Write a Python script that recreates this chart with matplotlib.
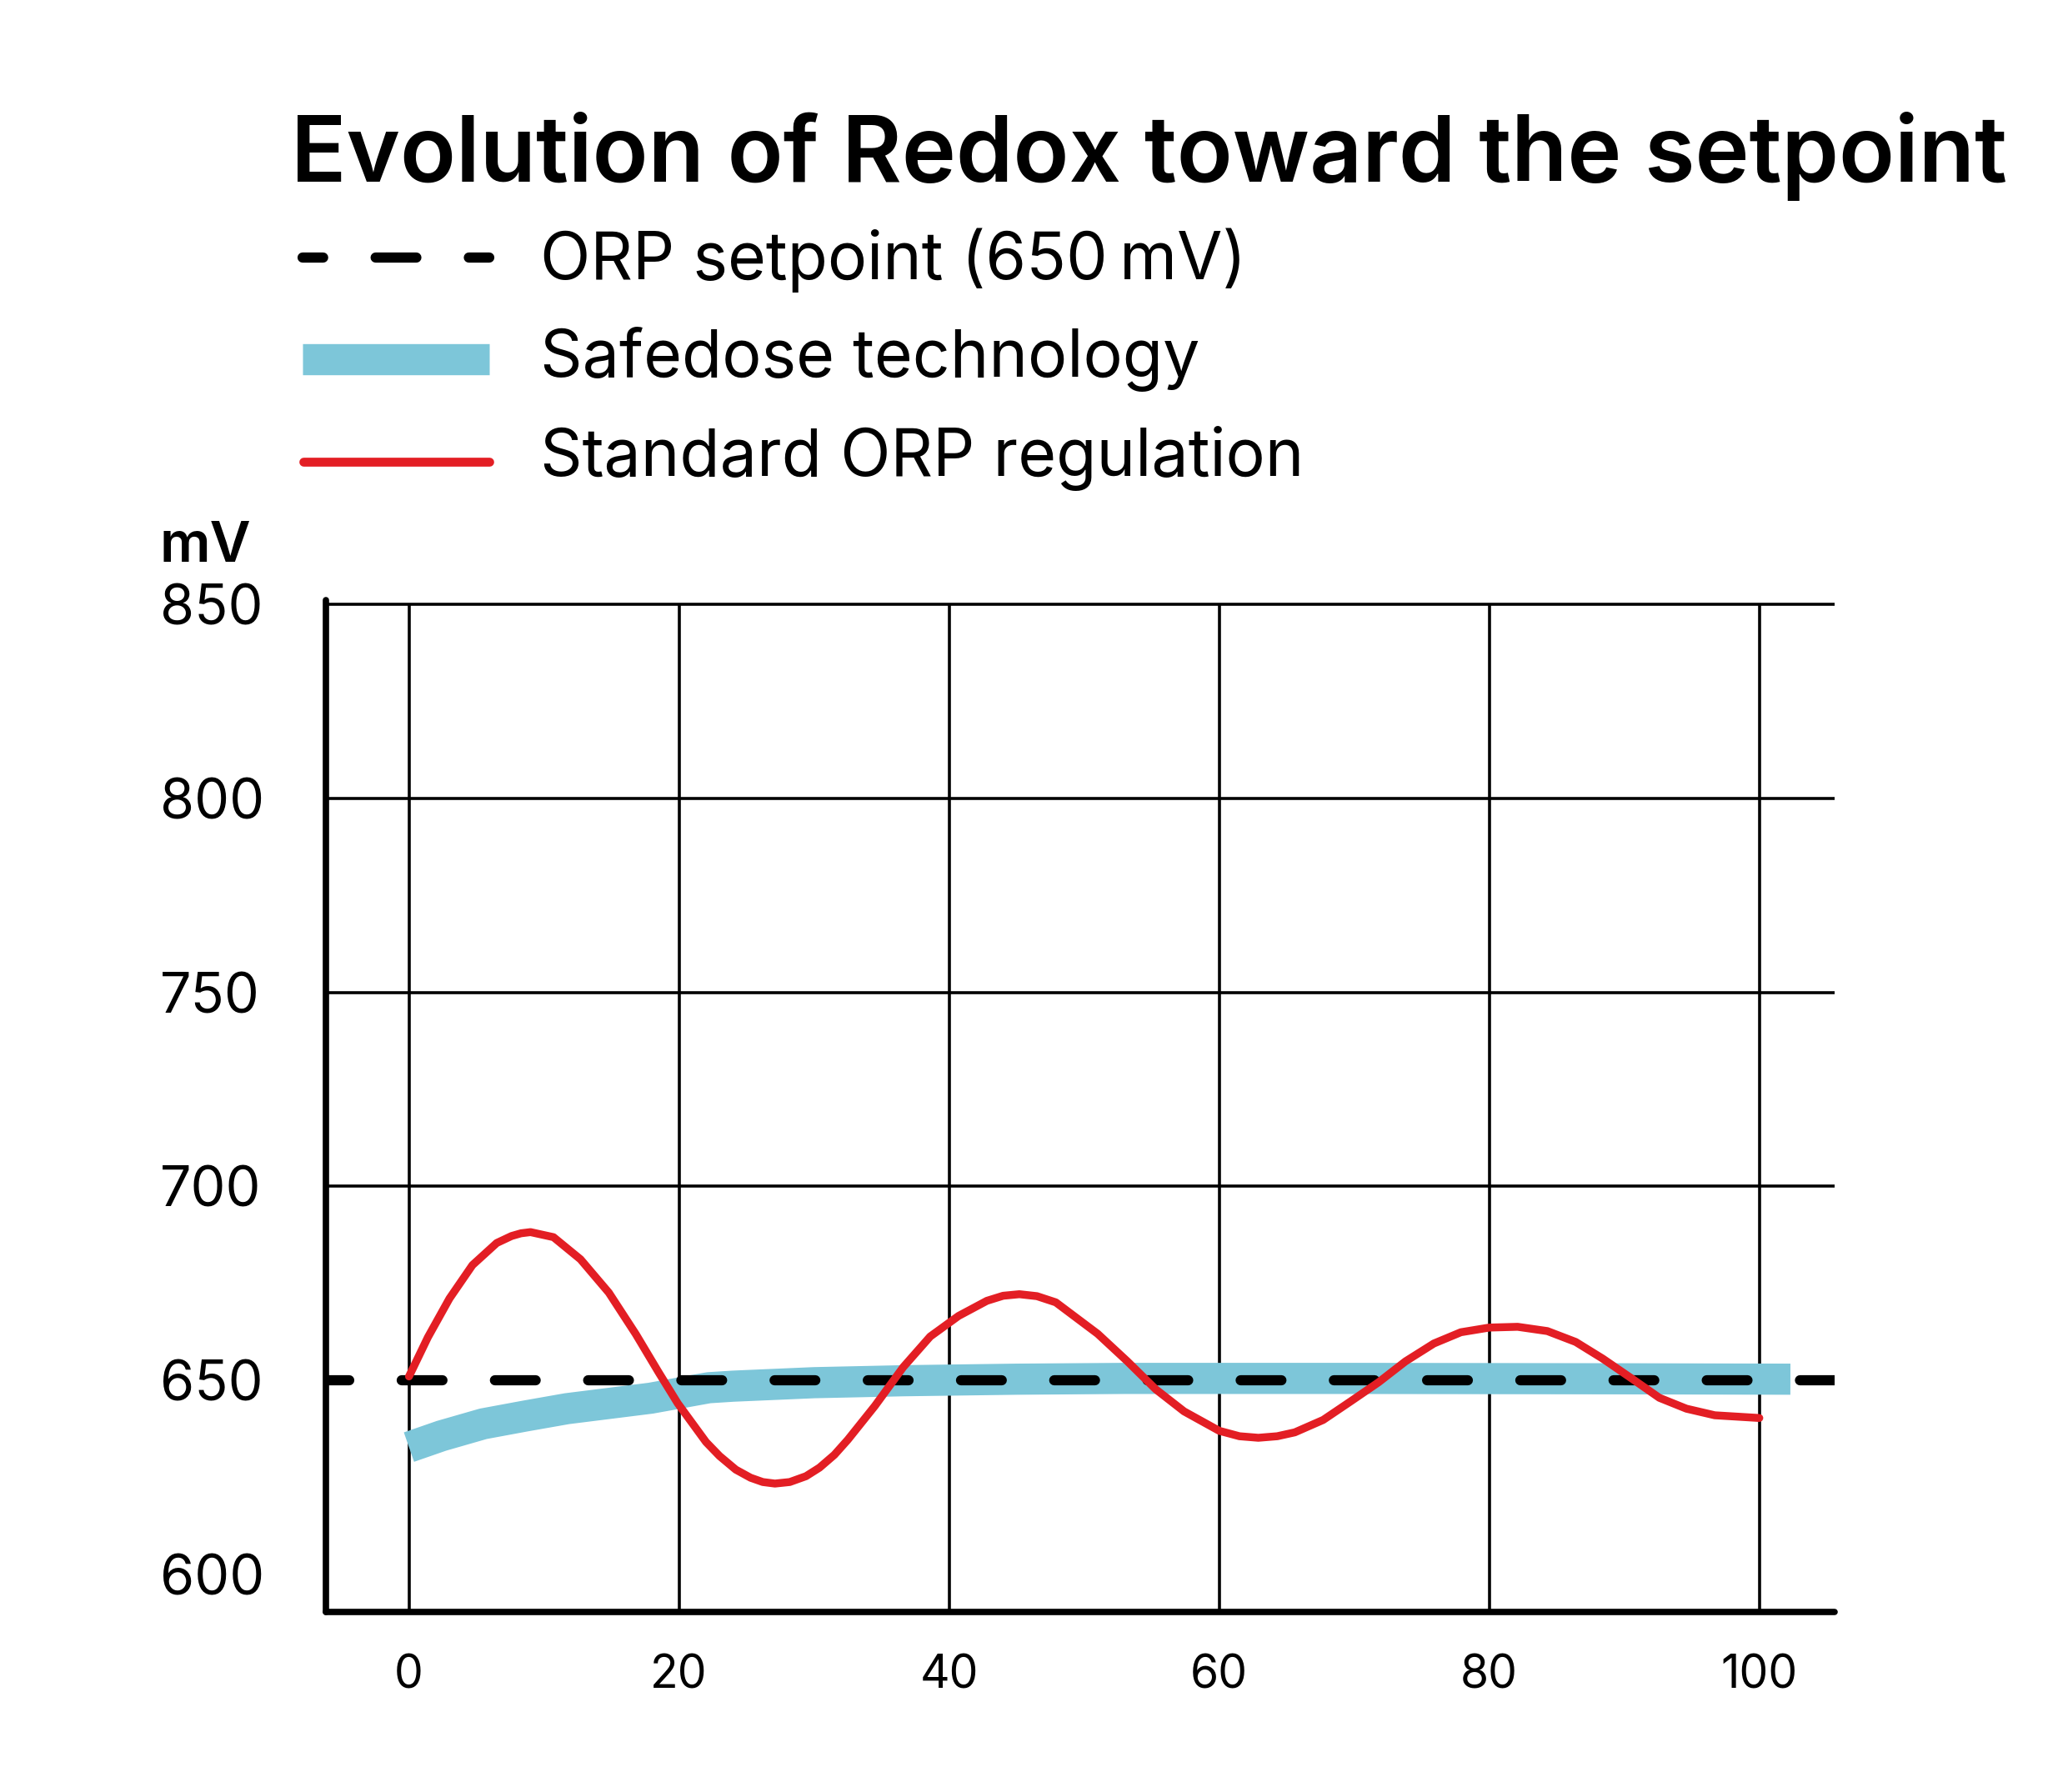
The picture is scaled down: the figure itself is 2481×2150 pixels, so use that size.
import matplotlib
matplotlib.use('Agg')
import matplotlib.pyplot as plt
from matplotlib.lines import Line2D

plt.rcParams['font.family'] = ['Inter', 'Lato', 'DejaVu Sans']

# data
x_ticks = [0, 20, 40, 60, 80, 100]
y_ticks = [600, 650, 700, 750, 800, 850]
grid_y = [700, 750, 800, 850]
setpoint = 650

safedose_x = [0, 2.4, 5.5, 8.6, 11.7, 17.9, 22.2, 24.0, 30.0, 36.6, 45.0, 53.0, 70.0, 90.0, 102.3]
safedose_y = [632.8, 635.7, 638.8, 640.8, 642.7, 645.4, 648.1, 648.5, 649.4, 649.9, 650.3, 650.5, 650.5, 650.4, 650.3]

standard_x = [0, 1.4, 3.0, 4.7, 6.5, 7.6, 8.3, 9.0, 10.7, 12.7, 14.8, 16.8, 18.5, 19.9, 22.0, 23.0,
              24.2, 25.3, 26.2, 27.1, 28.2, 29.4, 30.4, 31.5, 32.5, 34.5, 36.6, 38.6, 40.7, 42.8,
              44.0, 45.2, 46.5, 47.9, 51.0, 53.2, 55.3, 57.4, 60.0, 61.5, 62.9, 64.3, 65.6, 67.7,
              69.7, 71.8, 73.8, 75.9, 77.9, 80.0, 82.1, 84.3, 86.4, 88.4, 90.5, 92.6, 94.6, 96.7, 100]
standard_y = [651, 661.1, 671.1, 679.7, 685.4, 687.2, 687.9, 688.2, 686.9, 681.2, 672.6, 661.9, 652,
              644.1, 634.1, 630.5, 627.0, 624.9, 623.8, 623.4, 623.8, 625.3, 627.5, 630.8, 634.7,
              643.4, 653.4, 661.3, 666.6, 670.5, 671.8, 672.2, 671.7, 670.1, 662, 654.9, 647.7, 642,
              637, 635.6, 635.2, 635.6, 636.6, 639.8, 644.5, 649.5, 654.9, 659.5, 662.4, 663.6,
              663.8, 662.7, 659.9, 655.6, 650.6, 645.5, 642.7, 641, 640.3]

title = 'Evolution of Redox toward the setpoint'
labels = ['ORP setpoint (650\u2009mV)', 'Safedose technology', 'Standard ORP regulation']
unit = 'mV'

BLUE = '#7DC6D9'
RED = '#E31E24'

W, H = 2481, 2150


def fx(px):
    return px / W


def fy(py):
    return 1 - py / H


fig = plt.figure(figsize=(W / 100, H / 100), dpi=100)
ax = fig.add_axes([fx(390.7), fy(1933.6), (2200.6 - 390.7) / W, (1933.6 - 720.3) / H])
xmin, xmax = -6.17, 105.55
ymin, ymax = 590.4, 851
ax.set_xlim(xmin, xmax)
ax.set_ylim(ymin, ymax)

ax.hlines(grid_y, xmin, xmax, color='black', lw=2.6, zorder=1)
ax.vlines(x_ticks, ymin, 850, color='black', lw=2.6, zorder=1)

ax.plot(safedose_x, safedose_y, color=BLUE, lw=26.9, solid_capstyle='butt',
        solid_joinstyle='round', zorder=2)
ax.plot([xmin, xmax], [setpoint, setpoint], color='black', lw=8.8,
        linestyle=(1.71, (4.0, 5.15)), dash_capstyle='round', zorder=3)
ax.plot(standard_x, standard_y, color=RED, lw=6.8, solid_capstyle='round',
        solid_joinstyle='round', zorder=4)

for side in ['top', 'right']:
    ax.spines[side].set_visible(False)
for side in ['left', 'bottom']:
    ax.spines[side].set_linewidth(5.5)
    ax.spines[side].set_capstyle('round')

ax.set_xticks(x_ticks, labels=[str(v) for v in x_ticks])
ax.set_yticks(y_ticks, labels=[str(v) for v in y_ticks], ha='left')
ax.tick_params(axis='x', length=0, pad=36.5, labelsize=39.8)
ax.tick_params(axis='y', length=0, pad=143, labelsize=47.8)

fig.text(fx(192), fy(674), unit, fontsize=48.5, fontweight='semibold', va='baseline')
fig.text(fx(349), fy(218), title, fontsize=79.2, fontweight='semibold', va='baseline')

# legend drawn by hand to match the reference layout
baselines = [335.4, 452, 570.7]
for lbl, b in zip(labels, baselines):
    fig.text(fx(648.4), fy(b), lbl, fontsize=56.7, va='baseline')

fig.add_artist(Line2D([fx(363), fx(587)], [fy(308.6)] * 2, transform=fig.transFigure,
                      color='black', lw=8.8, linestyle=(1.98, (4.0, 5.15)), dash_capstyle='round'))
fig.add_artist(Line2D([fx(363.2), fx(587.1)], [fy(430.6)] * 2, transform=fig.transFigure,
                      color=BLUE, lw=26.9, solid_capstyle='butt'))
fig.add_artist(Line2D([fx(363.7), fx(587.2)], [fy(553.5)] * 2, transform=fig.transFigure,
                      color=RED, lw=7.7, solid_capstyle='round'))

fig.savefig('out.png', dpi=100)
